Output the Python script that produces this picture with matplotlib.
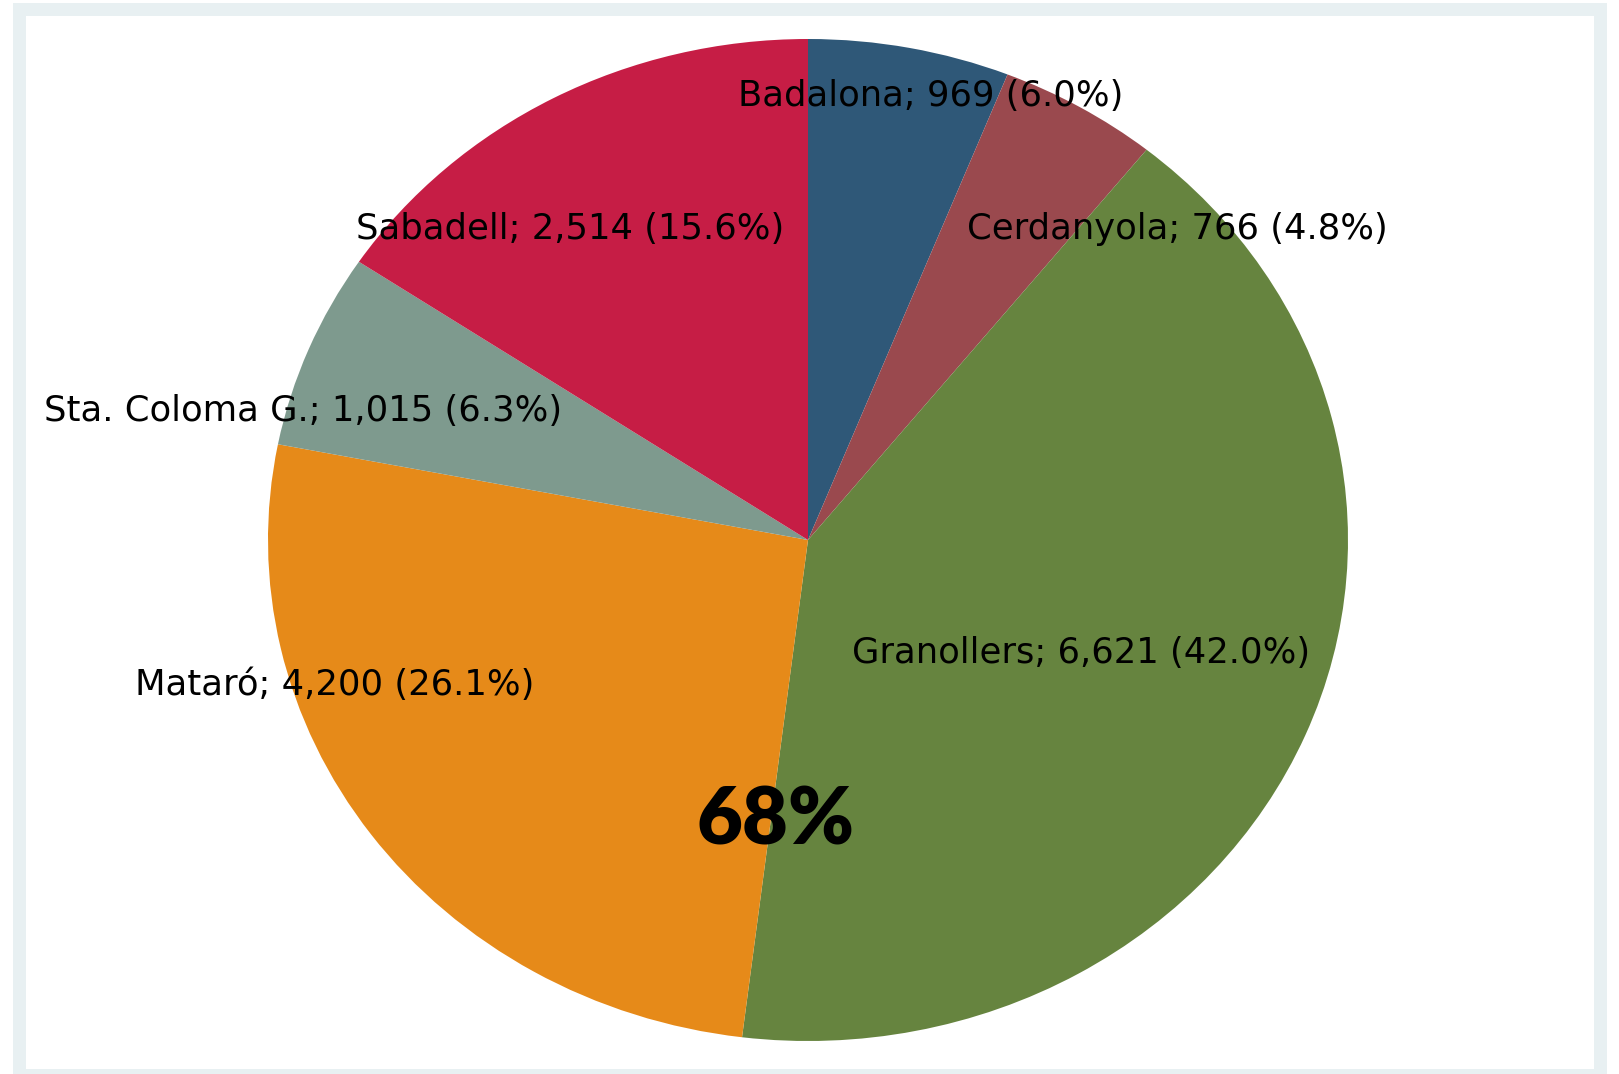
import matplotlib.pyplot as plt
from matplotlib.patches import Rectangle

# Datos por municipio (sentido horario desde las 12)
municipios = ['Badalona', 'Cerdanyola', 'Granollers', 'Mataró', 'Sta. Coloma G.', 'Sabadell']
casos = [969, 766, 6621, 4200, 1015, 2514]
etiquetas = ['Badalona; 969 (6.0%)', 'Cerdanyola; 766 (4.8%)', 'Granollers; 6,621 (42.0%)',
             'Mataró; 4,200 (26.1%)', 'Sta. Coloma G.; 1,015 (6.3%)', 'Sabadell; 2,514 (15.6%)']
total_texto = '68%'

colores = ['#2f5878', '#9a494e', '#66843f', '#e68a19', '#7e9a8e', '#c61d45']

# posiciones de las etiquetas (fraccion de figura, centro del texto)
pos_etiquetas = [(0.575, 0.911), (0.727, 0.787), (0.668, 0.392),
                 (0.207, 0.362), (0.187, 0.617), (0.352, 0.787)]

W, H = 1619, 1074
fig = plt.figure(figsize=(W / 100, H / 100), dpi=100)
fig.patch.set_facecolor('white')

# marco gris claro alrededor del area blanca
fig.add_artist(Rectangle((13 / W, 0), (1607 - 13) / W, 1 - 3 / H, transform=fig.transFigure,
                         facecolor='#e8f0f2', edgecolor='none', zorder=0))
fig.add_artist(Rectangle((26 / W, 1 - 1069 / H), (1594 - 26) / W, (1069 - 16) / H,
                         transform=fig.transFigure, facecolor='white', edgecolor='none', zorder=0))

# el pastel es una elipse: ejes con aspecto libre
cx, cy, rx, ry = 808, 540, 540, 501
ax = fig.add_axes([(cx - rx) / W, 1 - (cy + ry) / H, 2 * rx / W, 2 * ry / H])
ax.pie(casos, colors=colores, startangle=90, counterclock=False,
       wedgeprops=dict(linewidth=0.6, edgecolor='none'))
ax.set_aspect('auto')
ax.set_xlim(-1, 1)
ax.set_ylim(-1, 1)
ax.axis('off')

for txt, (x, y) in zip(etiquetas, pos_etiquetas):
    fig.text(x, y, txt, ha='center', va='center', fontsize=25.5,
             family='DejaVu Sans', color='black')

fig.text(776 / W, 1 - 821 / H, total_texto, ha='center', va='center', fontsize=57,
         family='Lato', fontweight='heavy', color='black')

fig.savefig('out.png', dpi=100)
